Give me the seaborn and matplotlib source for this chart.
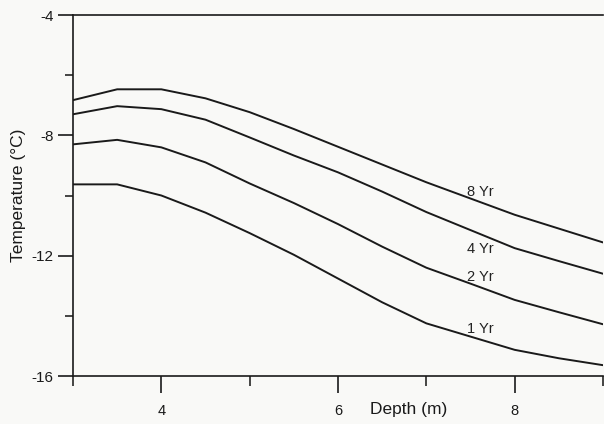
import pandas as pd
import seaborn as sns
import matplotlib.pyplot as plt
from matplotlib.ticker import FixedLocator, NullFormatter

# Temperature profiles (depth in m, temperature in C)
depth = [3, 3.5, 4, 4.5, 5, 5.5, 6, 6.5, 7, 7.5, 8, 8.5, 9]
temp_1yr = [-9.63, -9.63, -10.0, -10.57, -11.25, -11.97, -12.76, -13.55, -14.25, -14.69, -15.13, -15.41, -15.64]
temp_2yr = [-8.3, -8.15, -8.4, -8.9, -9.6, -10.25, -10.95, -11.7, -12.4, -12.93, -13.47, -13.88, -14.28]
temp_4yr = [-7.3, -7.03, -7.13, -7.48, -8.07, -8.67, -9.23, -9.87, -10.55, -11.15, -11.75, -12.18, -12.6]
temp_8yr = [-6.83, -6.47, -6.47, -6.77, -7.23, -7.79, -8.38, -8.97, -9.56, -10.1, -10.64, -11.1, -11.56]

series_names = ['1 Yr', '2 Yr', '4 Yr', '8 Yr']
label_y = [-14.43, -12.7, -11.77, -9.9]

rows = []
for name, vals in zip(series_names, [temp_1yr, temp_2yr, temp_4yr, temp_8yr]):
    for d, t in zip(depth, vals):
        rows.append({'Depth': d, 'Temperature': t, 'Years': name})
df = pd.DataFrame(rows)

sns.set_style("ticks")
plt.rcParams['font.family'] = ['Liberation Sans', 'DejaVu Sans']
plt.rcParams['axes.unicode_minus'] = False

bg = '#f9f9f7'
fig = plt.figure(figsize=(6.04, 4.24), dpi=100, facecolor=bg)
ax = fig.add_axes([73 / 604, 1 - 376 / 424, 530 / 604, 361 / 424])
ax.set_facecolor(bg)

sns.lineplot(data=df, x='Depth', y='Temperature', hue='Years',
             palette=['#1a1a1a'] * 4, linewidth=1.4, legend=False, ax=ax)

for name, y in zip(series_names, label_y):
    ax.text(7.61, y, name, ha='center', va='center', fontsize=10.5, color='#222222')

ax.set_xlim(3, 9)
ax.set_ylim(-16, -4)

ax.yaxis.set_major_locator(FixedLocator([-16, -12, -8, -4]))
ax.yaxis.set_minor_locator(FixedLocator([-14, -10, -6]))
ax.xaxis.set_major_locator(FixedLocator([4, 6, 8]))
ax.xaxis.set_minor_locator(FixedLocator([3, 5, 7, 9]))
ax.xaxis.set_minor_formatter(NullFormatter())

ax.tick_params(axis='y', which='major', length=11, width=1.2, pad=3, labelsize=11, colors='#1a1a1a')
ax.tick_params(axis='y', which='minor', length=6, width=1.2)
ax.tick_params(axis='x', which='major', length=12, width=1.2, pad=8, labelsize=10.5, colors='#1a1a1a')
ax.tick_params(axis='x', which='minor', length=7, width=1.2)

for side in ['left', 'top', 'bottom']:
    ax.spines[side].set_linewidth(1.2)
    ax.spines[side].set_color('#1a1a1a')
ax.spines['right'].set_visible(False)

ax.set_xlabel('Depth (m)', fontsize=12.5, va='center', color='#1a1a1a')
ax.xaxis.set_label_coords(0.634, -0.094)
ax.set_ylabel('Temperature (°C)', fontsize=12.5, va='center', color='#1a1a1a')
ax.yaxis.set_label_coords(-0.103, 0.50)

plt.savefig('out.png', dpi=100, facecolor=bg)
